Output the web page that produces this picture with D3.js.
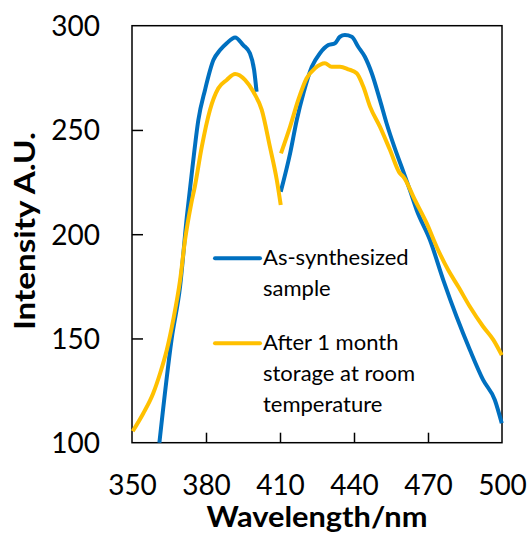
<!DOCTYPE html>
<html><head><meta charset="utf-8">
<script src="https://cdn.jsdelivr.net/npm/d3@7"></script>
<style>body{margin:0;background:#fff}svg{display:block}</style>
</head><body>
<svg id="c" width="531" height="533"></svg>
<script>
// Wavelength (nm) and intensity (A.U.); null marks a gap in the trace
const wavelengthA = [361.1,366.1,369.5,372.2,374.5,376.9,379.6,383.0,385.7,388.4,391.8,395.1,397.8,399.5,400.5,null,
  410.3,414.1,416.8,419.5,422.9,426.2,429.6,432.3,434.3,436.3,439.1,441.7,444.4,447.2,450.5,453.2,456.6,460.0,462.7,465.4,470.8,476.2,481.6,487.0,492.4,497.1,499.9];
const valuesA = [100,150,175,208,232,254.8,269.2,283.5,288.3,291.6,294.4,290.7,286.8,278.8,268.3,null,
  220.4,238.8,254.8,267.6,280.3,286.8,290.7,291.6,294.7,295.5,294.7,289.9,285.1,277.2,264.4,253.2,241,230,221,211.6,197.2,178,160.4,144.5,130,120.5,109.3];
const wavelengthB = [350.3,354.6,358.6,361.4,364.1,366.7,369.5,371.5,373.9,375.5,378.3,381.6,385.0,388.4,391.8,395.8,399.2,402.6,405.9,408.7,410.3,null,
  410.4,414.1,417.4,420.8,424.2,428.2,430.9,434.3,437.7,441.1,443.8,446.5,450.5,454.6,458.6,460.0,464.7,469.5,473.5,478.2,482.3,487.0,492.4,496.5,499.9];
const valuesB = [105.5,114.1,123.7,133.3,144.5,158.8,178,197.2,214,223,242,259.6,270,274,276.8,274,268.3,259.6,242,226,214,null,
  238.8,251.6,264.4,274.8,279.6,282,280.3,280.3,279.1,277.2,270.7,261.2,251.6,240.4,229.2,227.6,216.4,205.2,194,182.8,174.8,165.2,155.6,149.3,142];
const xTicks = [350,380,410,440,470,500];
const yTicks = [100,150,200,250,300];
const seriesNames = [["As-synthesized","sample"],["After 1 month","storage at room","temperature"]];
const colors = ["#0070C0","#FFC000"];

const svg = d3.select("#c");
const L=132, R=502, T=25.7, B=442.7;
const x = d3.scaleLinear().domain([350,500]).range([L,R]);
const y = d3.scaleLinear().domain([100,300]).range([B,T]);
const font = "Lato, 'Open Sans', sans-serif";

// frame
svg.append("rect").attr("x",L).attr("y",T).attr("width",R-L).attr("height",B-T)
  .attr("fill","none").attr("stroke","#000").attr("stroke-width",1.5);

// axes with inward ticks
const xAxis = svg.append("g").attr("transform",`translate(0,${B})`)
  .call(d3.axisBottom(x).tickValues(xTicks).tickSize(-10).tickSizeOuter(0).tickFormat(d3.format("d")));
const yAxis = svg.append("g").attr("transform",`translate(${L},0)`)
  .call(d3.axisLeft(y).tickValues(yTicks).tickSize(-11).tickSizeOuter(0).tickFormat(d3.format("d")));
[xAxis,yAxis].forEach(g=>{
  g.select(".domain").remove();
  g.selectAll(".tick line").attr("stroke","#000").attr("stroke-width",1.5);
  g.selectAll(".tick text").attr("fill","#000").style("font-family",font).style("font-size","28px");
});
xAxis.selectAll(".tick").filter(d=>d===350||d===500).select("line").remove();
yAxis.selectAll(".tick").filter(d=>d===100||d===300).select("line").remove();
xAxis.selectAll(".tick text").attr("y",0).attr("dy",0).attr("transform","translate(0,52)");
yAxis.selectAll(".tick text").attr("x",-32).attr("dy","0.35em");

// lines
const line = d3.line().defined(d=>d[1]!==null).curve(d3.curveMonotoneX).x(d=>x(d[0])).y(d=>y(d[1]));
const dataA = wavelengthA.map((w,i)=>[w,valuesA[i]]);
const dataB = wavelengthB.map((w,i)=>[w,valuesB[i]]);
[dataA,dataB].forEach((d,i)=>{
  svg.append("path").datum(d).attr("d",line).attr("fill","none")
    .attr("stroke",colors[i]).attr("stroke-width",4).attr("stroke-linejoin","round").attr("stroke-linecap","butt");
});

// legend
const legY=[258.3,343.3];
seriesNames.forEach((lines,i)=>{
  svg.append("line").attr("x1",215).attr("x2",260).attr("y1",legY[i]).attr("y2",legY[i])
    .attr("stroke",colors[i]).attr("stroke-width",4).attr("stroke-linecap","round");
  lines.forEach((t,j)=>{
    svg.append("text").attr("x",263).attr("y",legY[i]+6.7+j*31).text(t)
      .style("font-family",font).style("font-size","22px").attr("fill","#000");
  });
});

// titles
svg.append("text").attr("x",(L+R)/2).attr("y",527).attr("text-anchor","middle")
  .attr("textLength",221).attr("lengthAdjust","spacingAndGlyphs")
  .style("font-family",font).style("font-size","28px").style("font-weight","bold").text("Wavelength/nm");
svg.append("text").attr("transform","translate(35,231) rotate(-90)").attr("text-anchor","middle")
  .attr("textLength",198).attr("lengthAdjust","spacingAndGlyphs")
  .style("font-family",font).style("font-size","28px").style("font-weight","bold").text("Intensity A.U.");
</script>
</body></html>
